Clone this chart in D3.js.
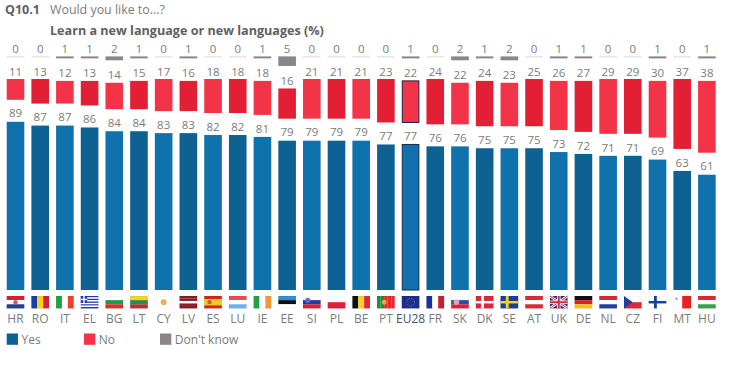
<!DOCTYPE html>
<html>
<head>
<meta charset="utf-8">
<script src="https://cdn.jsdelivr.net/npm/d3@7"></script>
<style>
  html, body { margin: 0; padding: 0; background: #fff; overflow: hidden; }
  text { font-family: "Open Sans", "Noto Sans", sans-serif; fill: #7b7b7b; }
</style>
</head>
<body>
<div id="container"></div>
<script>
/*** DATA */
const countries = ["HR","RO","IT","EL","BG","LT","CY","LV","ES","LU","IE","EE","SI","PL","BE","PT","EU28","FR","SK","DK","SE","AT","UK","DE","NL","CZ","FI","MT","HU"];
const yesValues = [89,87,87,86,84,84,83,83,82,82,81,79,79,79,79,77,77,76,76,75,75,75,73,72,71,71,69,63,61];
const noValues = [11,13,12,13,14,15,17,16,18,18,18,16,21,21,21,23,22,24,22,24,23,25,26,27,29,29,30,37,38];
const dkValues = [0,0,1,1,2,1,0,1,0,0,1,5,0,0,0,0,1,0,2,1,2,0,1,1,0,0,1,0,1];
const legendLabels = ["Yes", "No", "Don't know"];

// flag stripes: [direction, colours]
const flagStripes = {
  HR: ["h", ["#d8203a", "#ffffff", "#26408f"]],
  RO: ["v", ["#1a3ea8", "#fcd116", "#d8203a"]],
  IT: ["v", ["#1fa344", "#ffffff", "#e8452c"]],
  EL: ["h", ["#2438a8", "#ffffff", "#2438a8", "#ffffff", "#2438a8", "#ffffff", "#2438a8", "#ffffff", "#2438a8"]],
  BG: ["h", ["#ffffff", "#1f9a4d", "#d8322a"]],
  LT: ["h", ["#f5d423", "#2f8a45", "#b5303a"]],
  CY: ["h", ["#ffffff"]],
  LV: ["h", ["#8b1a24", "#8b1a24", "#ffffff", "#8b1a24", "#8b1a24"]],
  ES: ["h", ["#cf2a20", "#f5c518", "#f5c518", "#cf2a20"]],
  LU: ["h", ["#ee4a4f", "#ffffff", "#6fb0ee"]],
  IE: ["v", ["#1fa344", "#ffffff", "#f09a3e"]],
  EE: ["h", ["#2f8fdc", "#111111", "#ffffff"]],
  SI: ["h", ["#ffffff", "#2438a8", "#d8203a"]],
  PL: ["h", ["#ffffff", "#e0203a"]],
  BE: ["v", ["#111111", "#f5d423", "#e0283a"]],
  PT: ["v", ["#1f8a3a", "#1f8a3a", "#e8282a", "#e8282a", "#e8282a"]],
  EU28: ["h", ["#1c2f8c"]],
  FR: ["v", ["#1c2f9c", "#ffffff", "#c8202c"]],
  SK: ["h", ["#ffffff", "#2450b0", "#e0203a"]],
  DK: ["h", ["#d8283a"]],
  SE: ["h", ["#1c3f9c"]],
  AT: ["h", ["#e0283a", "#ffffff", "#e0283a"]],
  UK: ["h", ["#26307c"]],
  DE: ["h", ["#111111", "#dd2222", "#f5c518"]],
  NL: ["h", ["#d8283a", "#ffffff", "#24409c"]],
  CZ: ["h", ["#ffffff", "#e0283a"]],
  FI: ["h", ["#ffffff"]],
  MT: ["v", ["#ffffff", "#ec2024"]],
  HU: ["h", ["#e0283a", "#ffffff", "#3aa050"]]
};

// flag details drawn on top of the stripes, in a 0-1 box
const flagCross = { DK: "#ffffff", SE: "#f5d423", FI: "#1c3f9c" };
const flagEmblem = {
  HR: [0.5, 0.5, 0.13, "#c9606e"],
  CY: [0.5, 0.5, 0.17, "#eeb04a"],
  ES: [0.3, 0.5, 0.12, "#c9602a"],
  SI: [0.27, 0.35, 0.15, "#5a70c0"],
  SK: [0.3, 0.5, 0.16, "#e8a0a8"],
  PT: [0.4, 0.5, 0.14, "#d8b030"],
  MT: [0.18, 0.22, 0.07, "#a0a0a0"]
};

/*** CONSTANTS */
const width = 738, height = 365;
const blueColors = ["#1072ac", "#0e6193"];
const redColors = ["#f33347", "#e21f35"];
const greyColor = "#8b8589";

const svg = d3.select("#container").append("svg")
  .attr("width", width)
  .attr("height", height)
  .style("display", "block");

const x = d3.scaleBand().domain(countries).range([6.7, 715.7]).paddingInner(0.287).paddingOuter(0);
// length of 1 percentage point
const len = d3.scaleLinear().domain([0, 100]).range([0, 189]);
const yBase = 290, noTop = 79, dkTop = 56.5;

const rows = countries.map((c, i) => ({ c, i, yes: yesValues[i], no: noValues[i], dk: dkValues[i] }));
const cols = svg.selectAll("g.col").data(rows).join("g")
  .attr("class", "col")
  .attr("transform", d => `translate(${x(d.c)},0)`);
const bw = x.bandwidth();
const cx = bw / 2;
const outlined = d => d.c === "EU28";

// don't know: rule + bar
cols.append("rect").attr("x", 0).attr("width", bw).attr("y", dkTop).attr("height", 0.8).attr("fill", "#d0d0d0");
cols.append("rect").attr("x", 0).attr("width", bw).attr("y", dkTop)
  .attr("height", d => len(d.dk)).attr("fill", greyColor);
cols.append("text").attr("x", cx).attr("y", 52.5).attr("text-anchor", "middle")
  .attr("font-size", 11.5).text(d => d.dk);

// no
cols.append("rect").attr("x", d => outlined(d) ? 0.5 : 0).attr("width", d => outlined(d) ? bw - 1 : bw)
  .attr("y", d => noTop + len(d.dk))
  .attr("height", d => len(d.no))
  .attr("fill", d => redColors[d.i % 2])
  .attr("stroke", d => outlined(d) ? "#1d2748" : "none");
cols.append("text").attr("x", cx).attr("y", d => noTop + len(d.dk) - 3.5).attr("text-anchor", "middle")
  .attr("font-size", 11.5).text(d => d.no);

// yes
cols.append("rect").attr("x", d => outlined(d) ? 0.5 : 0).attr("width", d => outlined(d) ? bw - 1 : bw)
  .attr("y", d => yBase - len(d.yes))
  .attr("height", d => len(d.yes))
  .attr("fill", d => blueColors[d.i % 2])
  .attr("stroke", d => outlined(d) ? "#1d2748" : "none");
cols.append("text").attr("x", cx).attr("y", d => yBase - len(d.yes) - 4.3).attr("text-anchor", "middle")
  .attr("font-size", 11.5).text(d => d.yes);

// flags
const flagH = 12.4;
const flags = cols.append("g").attr("transform", "translate(0,296)");
flags.each(function (d) {
  const g = d3.select(this);
  const [dir, colours] = flagStripes[d.c];
  const n = colours.length;
  colours.forEach((col, k) => {
    g.append("rect")
      .attr("x", dir === "v" ? k * bw / n : 0)
      .attr("y", dir === "h" ? k * flagH / n : 0)
      .attr("width", dir === "v" ? bw / n : bw)
      .attr("height", dir === "h" ? flagH / n : flagH)
      .attr("fill", col);
  });
  if (flagCross[d.c]) {
    g.append("rect").attr("x", bw * 0.3).attr("y", 0).attr("width", bw * 0.16).attr("height", flagH).attr("fill", flagCross[d.c]);
    g.append("rect").attr("x", 0).attr("y", flagH * 0.4).attr("width", bw).attr("height", flagH * 0.2).attr("fill", flagCross[d.c]);
  }
  if (flagEmblem[d.c]) {
    const [ex, ey, er, col] = flagEmblem[d.c];
    g.append("circle").attr("cx", ex * bw).attr("cy", ey * flagH).attr("r", er * bw).attr("fill", col);
  }
  if (d.c === "EL") {
    g.append("rect").attr("width", bw * 0.36).attr("height", flagH * 5 / 9).attr("fill", "#2438a8");
    g.append("rect").attr("x", bw * 0.14).attr("width", bw * 0.08).attr("height", flagH * 5 / 9).attr("fill", "#ffffff");
    g.append("rect").attr("y", flagH * 2 / 9).attr("width", bw * 0.36).attr("height", flagH / 9).attr("fill", "#ffffff");
  }
  if (d.c === "CZ") {
    g.append("path").attr("d", `M0,0L${bw * 0.5},${flagH / 2}L0,${flagH}Z`).attr("fill", "#24409c");
  }
  if (d.c === "UK") {
    g.append("path").attr("d", `M0,0L${bw},${flagH}M${bw},0L0,${flagH}`).attr("stroke", "#ffffff").attr("stroke-width", 2.6);
    g.append("path").attr("d", `M0,0L${bw},${flagH}M${bw},0L0,${flagH}`).attr("stroke", "#d8283a").attr("stroke-width", 1);
    g.append("path").attr("d", `M${bw / 2},0V${flagH}M0,${flagH / 2}H${bw}`).attr("stroke", "#ffffff").attr("stroke-width", 3.6);
    g.append("path").attr("d", `M${bw / 2},0V${flagH}M0,${flagH / 2}H${bw}`).attr("stroke", "#d8283a").attr("stroke-width", 2);
  }
  if (d.c === "EU28") {
    g.append("circle").attr("cx", bw / 2).attr("cy", flagH / 2).attr("r", 3.8)
      .attr("fill", "none").attr("stroke", "#8a90a0").attr("stroke-width", 0.8).attr("stroke-dasharray", "1 1.2");
  }
  // thin edge, shows on the white flags
  g.append("rect").attr("x", 0.25).attr("y", 0.25).attr("width", bw - 0.5).attr("height", flagH - 0.5)
    .attr("fill", "none").attr("stroke", "#000").attr("stroke-opacity", 0.08).attr("stroke-width", 0.5);
});

// country codes
cols.append("text").attr("x", cx).attr("y", 322.5).attr("text-anchor", "middle")
  .attr("font-size", 12)
  .style("fill", d => outlined(d) ? "#4a5260" : null)
  .text(d => d.c);

// titles
svg.append("text").attr("x", 5).attr("y", 14).attr("font-size", 12.5).attr("font-weight", 700).style("fill", "#5f5f5f").text("Q10.1");
svg.append("text").attr("x", 50).attr("y", 14).attr("font-size", 12.4).text("Would you like to...?");
svg.append("text").attr("x", 50).attr("y", 34.5).attr("font-size", 12.6).attr("font-weight", 700).style("fill", "#5f5f5f").text("Learn a new language or new languages  (%)");

// legend
const legendX = d3.scaleOrdinal().domain(legendLabels).range([6.7, 84, 160]);
const legendColors = d3.scaleOrdinal().domain(legendLabels).range([blueColors[1], redColors[0], greyColor]);
const legend = svg.selectAll("g.legend").data(legendLabels).join("g")
  .attr("class", "legend")
  .attr("transform", d => `translate(${legendX(d)},333.5)`);
legend.append("rect").attr("width", 11.3).attr("height", 11.3).attr("fill", d => legendColors(d));
legend.append("text").attr("x", 14.8).attr("y", 10.8).attr("font-size", 12).text(d => d);
</script>
</body>
</html>
